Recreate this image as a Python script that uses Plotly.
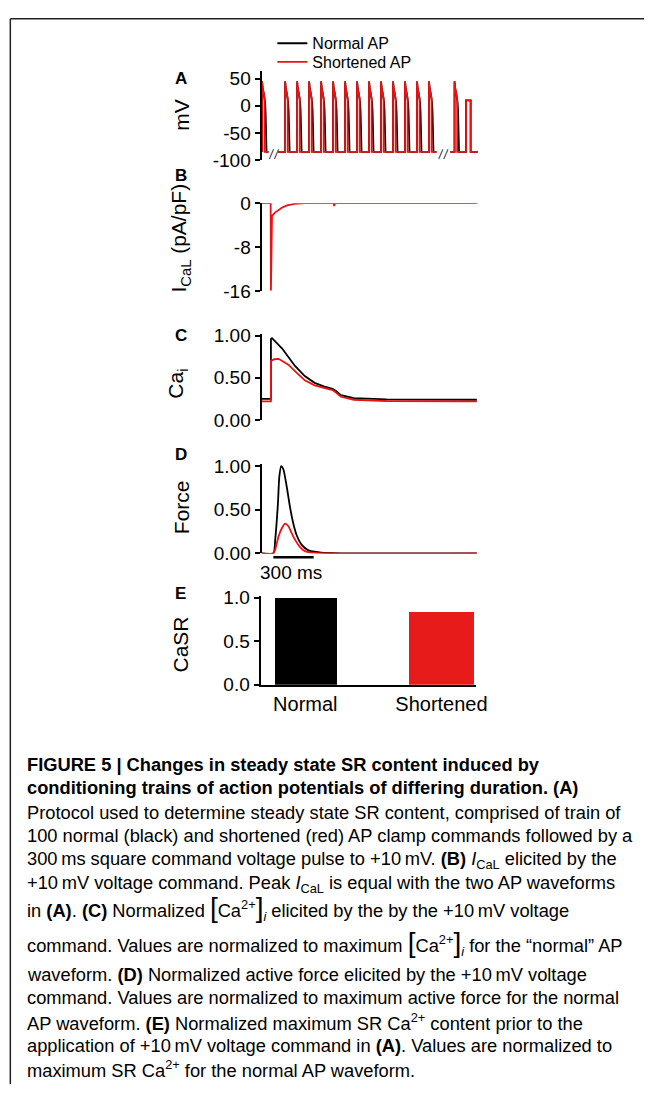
import plotly.graph_objects as go

W, H = 655, 1095
def X(px): return px / W
def Y(py): return 1 - py / H

BLACK = "#000000"
RED = "#ee1111"
BAR_RED = "#e81b1b"
FONT = "Liberation Sans, Arial, sans-serif"

# ---------------- data ----------------
# Panel A: AP clamp commands (display timeline in ms; breaks compressed)
ap_normal_t = [0, 0, 15, 50, 100, 150, 200, 235, 260, 280, 300]
ap_normal_v = [-85, 45, 37, 31, 25, 17, 7, -10, -40, -70, -85]
ap_short_t = [0, 0, 15, 50, 100, 150, 175, 175]
ap_short_v = [-85, 45, 37, 31, 25, 17, 14, -85]
rest_mv = -85
segment_bounds = [(0, 430), (1080, 11640), (12560, 14400)]
segment_beats = [
    [0],
    [1540, 2340, 3140, 3940, 4740, 5540, 6340, 7140, 7940, 8740, 9540, 10340, 11140],
    [12845],
]
pulse_start, pulse_end, pulse_mv = 13612, 13920, 10
break_centers = [800, 12100]

# Panel B: I_CaL (pA/pF) during the +10 mV command
ical_t = [0, 68, 70, 78, 100, 125, 151, 190, 245, 322, 536, 541, 546, 1603]
ical_v = [0, 0, -15.8, -2.3, -1.7, -1.2, -0.83, -0.4, -0.12, 0, 0, -0.5, 0, 0]

# Panel C: normalized Ca_i
cai_normal_t = [0, 70, 70, 78, 152, 200, 249, 322, 395, 468, 529, 554, 591, 688, 930, 1603]
cai_normal_v = [0.25, 0.25, 0.96, 0.97, 0.85, 0.75, 0.64, 0.52, 0.44, 0.395, 0.37, 0.345, 0.295, 0.26, 0.245, 0.24]
cai_short_t = [0, 70, 70, 95, 127, 200, 249, 322, 395, 468, 529, 554, 591, 688, 930, 1603]
cai_short_v = [0.22, 0.22, 0.70, 0.72, 0.725, 0.655, 0.58, 0.47, 0.41, 0.375, 0.355, 0.325, 0.275, 0.24, 0.225, 0.22]

# Panel D: normalized active force
force_normal_t = [0, 88, 102, 122, 132, 146, 163, 188, 212, 236, 261, 298, 346, 444, 593, 1603]
force_normal_v = [0, 0, 0.16, 0.57, 0.87, 1.0, 0.96, 0.76, 0.53, 0.345, 0.21, 0.10, 0.037, 0.008, 0, 0]
force_short_t = [0, 88, 102, 127, 152, 176, 200, 225, 249, 285, 322, 395, 1603]
force_short_v = [0, 0, 0.045, 0.195, 0.29, 0.34, 0.31, 0.23, 0.157, 0.075, 0.026, 0.005, 0]
scale_bar_start, scale_bar_ms = 88, 300

# Panel E: normalized SR Ca content
casr_categories = ["Normal", "Shortened"]
casr_values = [1.0, 0.84]

# ---------------- build panel A traces ----------------
def build_train(tpl_t, tpl_v):
    xs, ys = [], []
    last = len(segment_bounds) - 1
    for si, ((a, b), beats) in enumerate(zip(segment_bounds, segment_beats)):
        if beats[0] > a:
            xs.append(a); ys.append(rest_mv)
        for on in beats:
            xs += [on + t for t in tpl_t]
            ys += list(tpl_v)
        if si == last:
            xs += [pulse_start, pulse_start, pulse_end, pulse_end]
            ys += [rest_mv, pulse_mv, pulse_mv, rest_mv]
        xs.append(b); ys.append(rest_mv)
        xs.append(None); ys.append(None)
    return xs, ys

fig = go.Figure()

nx, ny = build_train(ap_normal_t, ap_normal_v)
sx, sy = build_train(ap_short_t, ap_short_v)
fig.add_trace(go.Scatter(x=nx, y=ny, mode="lines", line=dict(color=BLACK, width=1.8),
                         name="Normal AP", legend="legend", xaxis="x", yaxis="y", cliponaxis=False))
fig.add_trace(go.Scatter(x=sx, y=sy, mode="lines", line=dict(color=RED, width=1.8),
                         name="Shortened AP", legend="legend2", xaxis="x", yaxis="y", cliponaxis=False))

# axis-break slashes
bx, by = [], []
for c in break_centers:
    for off in (-170, 170):
        bx += [c + off - 140, c + off + 140, None]
        by += [-98, -80, None]
fig.add_trace(go.Scatter(x=bx, y=by, mode="lines", line=dict(color="#555555", width=1.2),
                         showlegend=False, xaxis="x", yaxis="y", cliponaxis=False))

# Panel B
fig.add_trace(go.Scatter(x=ical_t, y=ical_v, mode="lines", line=dict(color=RED, width=1.8),
                         showlegend=False, xaxis="x2", yaxis="y2", cliponaxis=False))
# Panel C
fig.add_trace(go.Scatter(x=cai_normal_t, y=cai_normal_v, mode="lines", line=dict(color=BLACK, width=1.8),
                         showlegend=False, xaxis="x3", yaxis="y3", cliponaxis=False))
fig.add_trace(go.Scatter(x=cai_short_t, y=cai_short_v, mode="lines", line=dict(color=RED, width=1.8),
                         showlegend=False, xaxis="x3", yaxis="y3", cliponaxis=False))
# Panel D
fig.add_trace(go.Scatter(x=force_normal_t, y=force_normal_v, mode="lines", line=dict(color=BLACK, width=1.8, shape="spline", smoothing=0.6),
                         showlegend=False, xaxis="x4", yaxis="y4", cliponaxis=False))
fig.add_trace(go.Scatter(x=force_short_t, y=force_short_v, mode="lines", line=dict(color=RED, width=1.8, shape="spline", smoothing=0.6),
                         showlegend=False, xaxis="x4", yaxis="y4", cliponaxis=False))
# Panel E
fig.add_trace(go.Bar(x=casr_categories, y=casr_values, marker=dict(color=[BLACK, BAR_RED], line=dict(width=0)),
                     width=[0.455, 0.477], showlegend=False, xaxis="x5", yaxis="y5"))

# ---------------- axes ----------------
tickfont = dict(family=FONT, size=19, color="black")
def yax(dom, rng, vals, texts):
    return dict(domain=[Y(dom[0]), Y(dom[1])], range=rng, tickmode="array", tickvals=vals, ticktext=texts,
                showline=True, linecolor="black", linewidth=2, ticks="outside", ticklen=5, tickwidth=2,
                tickcolor="black", tickfont=tickfont, showgrid=False, zeroline=False, fixedrange=True)
def xhid(rng, anchor):
    return dict(domain=[X(266), X(490)], range=rng, visible=False, anchor=anchor, fixedrange=True)

t_scale = 7.32  # ms per px in panels B-D
bcd_range = [0, (490 - 266) * t_scale]

fig.update_layout(
    xaxis=xhid([-33, 14662], "y"),
    yaxis=yax((153, 62), [-100, 64.5], [50, 0, -50, -100], ["50", "0", "-50", "-100"]) | dict(anchor="x"),
    xaxis2=xhid(bcd_range, "y2"),
    yaxis2=yax((287, 197), [-16, 0], [0, -8, -16], ["0", "-8", "-16"]) | dict(anchor="x2"),
    xaxis3=xhid(bcd_range, "y3"),
    yaxis3=yax((418, 330), [0, 1.023], [1, 0.5, 0], ["1.00", "0.50", "0.00"]) | dict(anchor="x3"),
    xaxis4=xhid(bcd_range, "y4"),
    yaxis4=yax((554, 463), [0, 1.022], [1, 0.5, 0], ["1.00", "0.50", "0.00"]) | dict(anchor="x4"),
    xaxis5=dict(domain=[X(265), X(484)], type="category", range=[-0.329, 1.253], anchor="y5",
                showline=True, linecolor="black", linewidth=2, ticks="",
                tickfont=dict(family=FONT, size=20, color="black"), showgrid=False, fixedrange=True),
    yaxis5=yax((688, 597), [0, 1.025], [1, 0.5, 0], ["1.0", "0.5", "0.0"]) | dict(anchor="x5"),
)

# ---------------- legends ----------------
legfont = dict(family=FONT, size=16, color="black")
fig.update_layout(
    legend=dict(x=X(277), y=Y(34), xanchor="left", yanchor="middle", font=legfont,
                bgcolor="rgba(0,0,0,0)", borderwidth=0, itemwidth=30),
    legend2=dict(x=X(277), y=Y(53), xanchor="left", yanchor="middle", font=legfont,
                 bgcolor="rgba(0,0,0,0)", borderwidth=0, itemwidth=30),
)

# ---------------- annotations ----------------
ann = []
def add_text(px, py, text, size, bold=False, angle=0, xanchor="center", yanchor="middle"):
    ann.append(dict(x=X(px), y=Y(py), xref="paper", yref="paper", text=(f"<b>{text}</b>" if bold else text),
                    showarrow=False, textangle=angle, xanchor=xanchor, yanchor=yanchor,
                    font=dict(family=FONT, size=size, color="black")))

for letter, py in zip("ABCDE", [70, 169, 332, 453, 595]):
    add_text(184, py, letter, 17, bold=True)
add_text(185, 107, "mV", 21, angle=-90)
add_text(183, 232, "I<sub>CaL</sub> (pA/pF)", 21, angle=-90)
add_text(180, 381, "Ca<sub>i</sub>", 21, angle=-90)
add_text(184, 507, "Force", 21, angle=-90)
add_text(184, 647, "CaSR", 21, angle=-90)
add_text(295.5, 573, "300 ms", 19)

big = '<span style="font-size:28px">'
cai = f'{big}[</span>Ca<sup>2+</sup>{big}]</span><sub><i>i</i></sub>'
caption = [
    (769, "<b>FIGURE 5 | Changes in steady state SR content induced by</b>"),
    (793, "<b>conditioning trains of action potentials of differing duration. (A)</b>"),
    (818, "Protocol used to determine steady state SR content, comprised of train of"),
    (842, "100 normal (black) and shortened (red) AP clamp commands followed by a"),
    (867, "300\u2009ms square command voltage pulse to +10\u2009mV. <b>(B)</b> <i>I</i><sub>CaL</sub> elicited by the"),
    (891, "+10\u2009mV voltage command. Peak <i>I</i><sub>CaL</sub> is equal with the two AP waveforms"),
    (916, f"in <b>(A)</b>. <b>(C)</b> Normalized {cai} elicited by the by the +10\u2009mV voltage"),
    (951, f"command. Values are normalized to maximum {cai} for the \u201cnormal\u201d AP"),
    (983, "waveform. <b>(D)</b> Normalized active force elicited by the +10\u2009mV voltage"),
    (1007, "command. Values are normalized to maximum active force for the normal"),
    (1032, "AP waveform. <b>(E)</b> Normalized maximum SR Ca<sup>2+</sup> content prior to the"),
    (1056, "application of +10\u2009mV voltage command in <b>(A)</b>. Values are normalized to"),
    (1080, "maximum SR Ca<sup>2+</sup> for the normal AP waveform."),
]
for py, txt in caption:
    add_text(25, py, txt, 18.3, xanchor="left")

fig.update_layout(annotations=ann)

# scale bar and frame
fig.update_layout(shapes=[
    dict(type="line", xref="x4", yref="paper", x0=scale_bar_start, x1=scale_bar_start + scale_bar_ms,
         y0=Y(558), y1=Y(558), line=dict(color="black", width=2.5)),
    dict(type="line", xref="paper", yref="paper", x0=X(10.5), x1=1, y0=Y(9), y1=Y(9),
         line=dict(color="#222222", width=1.5)),
    dict(type="line", xref="paper", yref="paper", x0=X(10.5), x1=X(10.5), y0=Y(9), y1=0,
         line=dict(color="#222222", width=1.5)),
])

fig.update_layout(width=W, height=H, margin=dict(l=0, r=0, t=0, b=0), autosize=False,
                  paper_bgcolor="white", plot_bgcolor="white", bargap=0)

fig.write_html("out.html", config={"displayModeBar": False})
